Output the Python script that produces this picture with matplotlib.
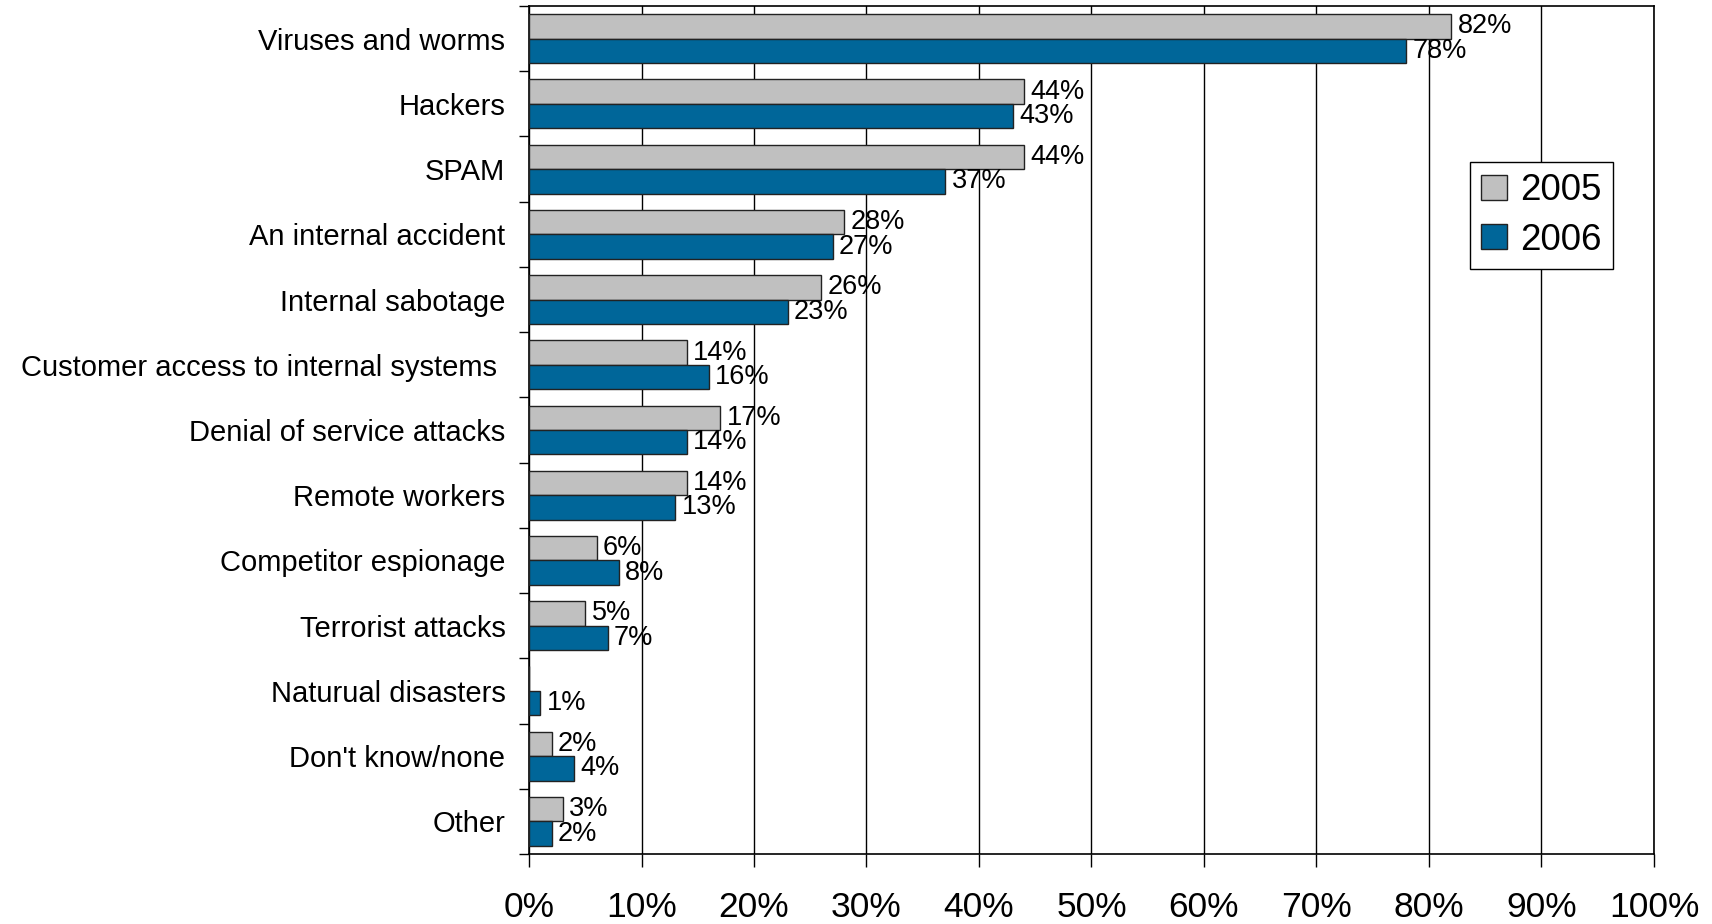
import numpy as np
import matplotlib
matplotlib.use("Agg")
import matplotlib.pyplot as plt
from matplotlib.ticker import FixedLocator, PercentFormatter

plt.rcParams['font.family'] = ['Liberation Sans', 'DejaVu Sans']

categories = [
    "Viruses and worms", "Hackers", "SPAM", "An internal accident",
    "Internal sabotage", "Customer access to internal systems ",
    "Denial of service attacks", "Remote workers", "Competitor espionage",
    "Terrorist attacks", "Naturual disasters", "Don't know/none", "Other",
]
values_2005 = [82, 44, 44, 28, 26, 14, 17, 14, 6, 5, 0, 2, 3]
values_2006 = [78, 43, 37, 27, 23, 16, 14, 13, 8, 7, 1, 4, 2]
x_ticks = list(range(0, 101, 10))

color_2005 = "#c0c0c0"
color_2006 = "#006699"

fig = plt.figure(figsize=(17.12, 9.24), dpi=100)
ax = fig.add_axes([0.309, 0.0758, 0.6571, 0.9177])

n = len(categories)
y = np.arange(n)
h = 0.375

bars_a = ax.barh(y - h / 2, values_2005, height=h, color=color_2005,
                 edgecolor="#222222", linewidth=1.0, label="2005", zorder=3)
bars_b = ax.barh(y + h / 2, values_2006, height=h, color=color_2006,
                 edgecolor="#222222", linewidth=1.0, label="2006", zorder=3)

# value labels next to bar ends (skip empty bars)
for bars, vals in ((bars_a, values_2005), (bars_b, values_2006)):
    for b, v in zip(bars, vals):
        if v <= 0:
            continue
        ax.annotate(f"{v}%", (b.get_width(), b.get_y() + b.get_height() / 2),
                    xytext=(4.5, 0), textcoords="offset points",
                    ha="left", va="center", fontsize=19.5, zorder=4)

ax.set_xlim(0, 100)
ax.set_ylim(n - 0.5, -0.5)
ax.xaxis.set_major_locator(FixedLocator(x_ticks))
ax.xaxis.set_major_formatter(PercentFormatter(decimals=0))
ax.grid(axis="x", color="black", linewidth=1.0, zorder=0)

ax.set_yticks(y)
ax.set_yticklabels(categories)
ax.yaxis.set_minor_locator(FixedLocator(np.arange(-0.5, n, 1.0)))
ax.tick_params(axis="y", which="major", length=0, pad=17, labelsize=21)
ax.tick_params(axis="y", which="minor", length=7, width=1.0, direction="out")
ax.tick_params(axis="x", length=9, width=1.0, direction="out", pad=18, labelsize=25.5)

for side in ("left", "bottom", "right", "top"):
    ax.spines[side].set_linewidth(1.2)

leg = ax.legend(loc="upper right", bbox_to_anchor=(0.9635, 0.816), fontsize=26.5,
                frameon=True, fancybox=False, edgecolor="black", framealpha=1,
                handlelength=0.7, handleheight=0.66, handletextpad=0.36,
                borderpad=0.3, labelspacing=0.4, borderaxespad=0)
leg.get_frame().set_linewidth(1.0)

fig.savefig("out.png", dpi=100)
